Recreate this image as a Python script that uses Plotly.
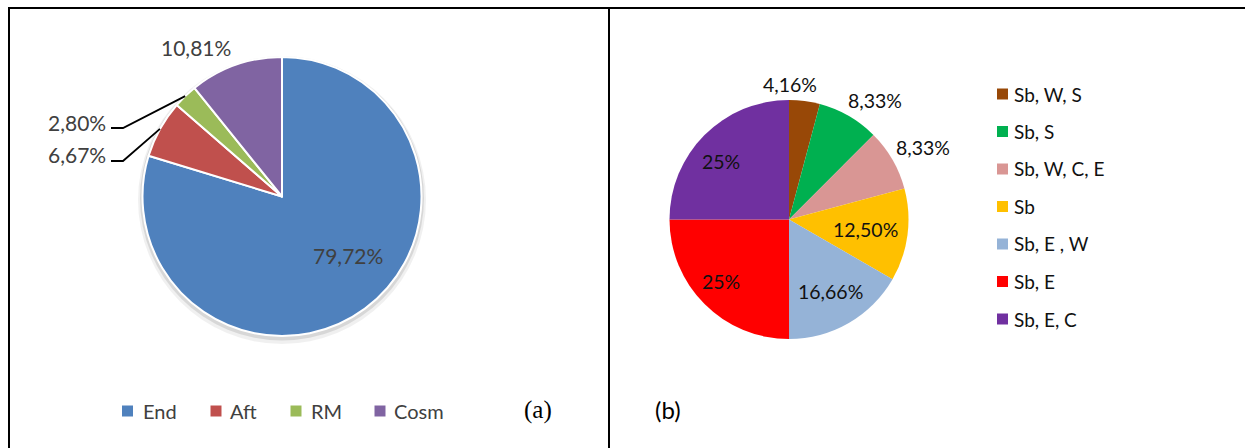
import math
import plotly.graph_objects as go

W, H = 1245, 448

# Panel (a): share of each group
groups_a = ["End", "Aft", "RM", "Cosm"]
values_a = [79.72, 6.67, 2.80, 10.81]
colors_a = ["#4F81BD", "#C0504D", "#9BBB59", "#8064A2"]

# Panel (b): share of each combination
groups_b = ["Sb, W, S", "Sb, S", "Sb, W, C, E", "Sb", "Sb, E , W", "Sb, E", "Sb, E, C"]
values_b = [4.16, 8.33, 8.33, 12.50, 16.66, 25, 25]
colors_b = ["#984807", "#00B050", "#D99694", "#FFC000", "#95B3D7", "#FF0000", "#7030A0"]

# Layout: pie centres / radii in pixels
PIE_A = dict(cx=282, cy=196.5, r=139.5)
PIE_B = dict(cx=789, cy=219.5, r=119.5)

# Label placement (pixel centres), one per slice
label_pos_a = [(348, 255), None, None, (196, 47)]
leader_a = {1: 161, 2: 128}          # slices labelled through a leader line -> line y
leader_elbow_x, leader_end_x = 123, 111
label_pos_b = [(790, 85), (875, 100), (923, 147), (865, 229), (830, 291), (721, 281), (721, 162)]

legend_a_sq_x = [127.5, 216, 296, 380]
legend_a_txt_x = [142, 229, 310, 393]
legend_a_y = 411
legend_b_sq_x, legend_b_txt_x = 1002.5, 1013
legend_b_y0, legend_b_dy = 94, 37.5

FONT = "Lato, 'Open Sans', sans-serif"


def px(x):
    return x / W


def py(y):
    return 1 - y / H


def fmt(v):
    s = f"{int(v)}" if float(v).is_integer() else f"{v:.2f}"
    return s.replace(".", ",") + "%"


def domain(p):
    return dict(x=[px(p["cx"] - p["r"]), px(p["cx"] + p["r"])],
                y=[py(p["cy"] + p["r"]), py(p["cy"] - p["r"])])


def mid_angles(vals):
    tot = sum(vals)
    out, acc = [], 0.0
    for v in vals:
        out.append((acc + v / 2) / tot * 2 * math.pi)
        acc += v
    return out


fig = go.Figure()

fig.add_trace(go.Pie(
    labels=groups_a, values=values_a, sort=False, direction="clockwise", rotation=0,
    marker=dict(colors=colors_a, line=dict(color="white", width=2)),
    textinfo="none", hoverinfo="label+percent", showlegend=False,
    domain=domain(PIE_A),
))
fig.add_trace(go.Pie(
    labels=groups_b, values=values_b, sort=False, direction="clockwise", rotation=0,
    marker=dict(colors=colors_b, line=dict(width=0)),
    textinfo="none", hoverinfo="label+percent", showlegend=False,
    domain=domain(PIE_B),
))

shapes = []
annotations = []

# table frame
for x0, y0, x1, y1 in [(8, 8, W, 8), (9, 8, 9, H), (609, 8, 609, H)]:
    shapes.append(dict(type="line", xref="paper", yref="paper",
                       x0=px(x0), y0=py(y0), x1=px(x1), y1=py(y1),
                       line=dict(color="black", width=2)))

# soft shadow behind pie (a)
for grow, dy, alpha in [(4.5, 3.5, 0.06), (2.5, 2.0, 0.10)]:
    r = PIE_A["r"] + grow
    shapes.append(dict(type="circle", xref="paper", yref="paper", layer="below",
                       x0=px(PIE_A["cx"] - r), x1=px(PIE_A["cx"] + r),
                       y0=py(PIE_A["cy"] + dy + r), y1=py(PIE_A["cy"] + dy - r),
                       fillcolor=f"rgba(0,0,0,{alpha})", line=dict(width=0)))

# labels for pie (a)
angles_a = mid_angles(values_a)
for i, v in enumerate(values_a):
    if i in leader_a:
        a = angles_a[i]
        ex = PIE_A["cx"] + PIE_A["r"] * math.sin(a)
        ey = PIE_A["cy"] - PIE_A["r"] * math.cos(a)
        ly = leader_a[i]
        path = (f"M {px(ex)} {py(ey)} L {px(leader_elbow_x)} {py(ly)} "
                f"L {px(leader_end_x)} {py(ly)}")
        shapes.append(dict(type="path", xref="paper", yref="paper", path=path,
                           line=dict(color="black", width=1.8)))
        annotations.append(dict(x=px(leader_end_x - 4), y=py(ly - 6), xref="paper", yref="paper",
                                text=fmt(v), showarrow=False, xanchor="right", yanchor="middle",
                                borderpad=0, font=dict(family=FONT, size=21, color="#404040")))
    else:
        x, y = label_pos_a[i]
        annotations.append(dict(x=px(x), y=py(y), xref="paper", yref="paper",
                                text=fmt(v), showarrow=False, xanchor="center", yanchor="middle",
                                borderpad=0, font=dict(family=FONT, size=21, color="#404040")))

# labels for pie (b)
for (x, y), v in zip(label_pos_b, values_b):
    annotations.append(dict(x=px(x), y=py(y), xref="paper", yref="paper",
                            text=fmt(v), showarrow=False, xanchor="center", yanchor="middle",
                            borderpad=0, font=dict(family=FONT, size=19.5, color="#111111")))

# legend (a)
for name, col, sx, tx in zip(groups_a, colors_a, legend_a_sq_x, legend_a_txt_x):
    shapes.append(dict(type="rect", xref="paper", yref="paper",
                       x0=px(sx - 5.5), x1=px(sx + 5.5),
                       y0=py(legend_a_y + 5.5), y1=py(legend_a_y - 5.5),
                       fillcolor=col, line=dict(width=0)))
    annotations.append(dict(x=px(tx), y=py(legend_a_y), xref="paper", yref="paper",
                            text=name, showarrow=False, xanchor="left", yanchor="middle",
                            borderpad=0, font=dict(family=FONT, size=20, color="#404040")))

# legend (b)
for i, (name, col) in enumerate(zip(groups_b, colors_b)):
    y = legend_b_y0 + i * legend_b_dy
    shapes.append(dict(type="rect", xref="paper", yref="paper",
                       x0=px(legend_b_sq_x - 5.5), x1=px(legend_b_sq_x + 5.5),
                       y0=py(y + 5.5), y1=py(y - 5.5),
                       fillcolor=col, line=dict(width=0)))
    annotations.append(dict(x=px(legend_b_txt_x), y=py(y), xref="paper", yref="paper",
                            text=name, showarrow=False, xanchor="left", yanchor="middle",
                            borderpad=0, font=dict(family=FONT, size=19, color="#111111")))

# panel tags
annotations.append(dict(x=px(538), y=py(410), xref="paper", yref="paper", text="(a)",
                        showarrow=False, xanchor="center", yanchor="middle", borderpad=0,
                        font=dict(family="'Liberation Serif', 'Times New Roman', serif",
                                  size=25, color="black")))
annotations.append(dict(x=px(668), y=py(409), xref="paper", yref="paper", text="(b)",
                        showarrow=False, xanchor="center", yanchor="middle", borderpad=0,
                        font=dict(family=FONT, size=24, color="black")))

fig.update_layout(
    width=W, height=H, margin=dict(l=0, r=0, t=0, b=0),
    paper_bgcolor="white", plot_bgcolor="white",
    shapes=shapes, annotations=annotations,
)

fig.write_html("out.html")
